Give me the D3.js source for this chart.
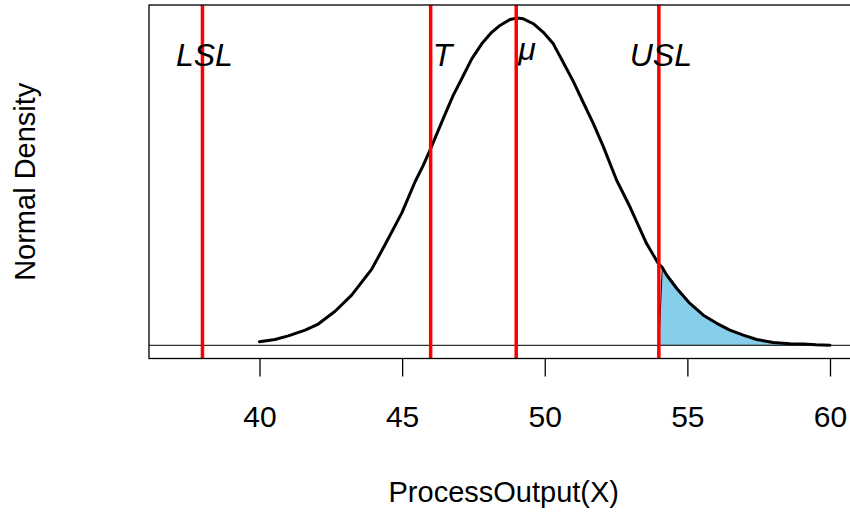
<!DOCTYPE html>
<html>
<head>
<meta charset="utf-8">
<script src="https://cdn.jsdelivr.net/npm/d3@7"></script>
<style>
  html, body { margin: 0; padding: 0; background: #fff; }
  svg { display: block; font-family: "Liberation Sans", Arial, sans-serif; }
</style>
</head>
<body>
<svg id="chart" width="850" height="513"></svg>
<script>
// Process output values and the matching normal density readings
const processX = [
  40.00, 40.54, 41.01, 41.60, 42.06, 42.65, 43.23, 43.93, 44.40, 44.99,
  45.45, 45.74, 46.00, 46.44, 46.79, 47.09, 47.44, 47.79, 48.14, 48.43,
  48.78, 49.02, 49.25, 49.60, 49.95, 50.30, 50.65, 51.00, 51.35, 51.70,
  52.05, 52.52, 52.99, 53.57, 53.98, 54.12, 54.28, 54.63, 55.09, 55.56,
  56.03, 56.49, 56.96, 57.43, 58.01, 58.60, 59.06, 59.51, 60.00
];
const densityY = [
  0.0015, 0.0024, 0.0039, 0.0062, 0.0087, 0.0139, 0.0205, 0.0310, 0.0410, 0.0540,
  0.0666, 0.0734, 0.0802, 0.0924, 0.1019, 0.1087, 0.1168, 0.1229, 0.1276, 0.1304,
  0.1328, 0.1334, 0.1331, 0.1311, 0.1276, 0.1229, 0.1153, 0.1076, 0.0990, 0.0905,
  0.0811, 0.0673, 0.0564, 0.0415, 0.0334, 0.0318, 0.0286, 0.0232, 0.0171, 0.0123,
  0.0090, 0.0062, 0.0042, 0.0024, 0.0012, 0.0007, 0.0006, 0.0003, 0.0001
];

// Specification limits, target and process mean
const markerNames = ["LSL", "T", "\u03bc", "USL"];
const markerValues = [38, 46, 49, 54];
const markerAnchor = ["middle", "start", "start", "middle"];

// Axis ticks
const xTicks = [40, 45, 50, 55, 60];

const svg = d3.select("#chart");

// Plot region (right edge runs past the visible canvas)
const plotLeft = 149, plotTop = 5, plotBottom = 358.5;
const pxPerUnit = 28.525;
const xLo = 40 - (259.5 - plotLeft) / pxPerUnit;
const xHi = 61.0;
const plotRight = plotLeft + (xHi - xLo) * pxPerUnit;

const x = d3.scaleLinear().domain([xLo, xHi]).range([plotLeft, plotRight]);
const yMax = d3.max(densityY);
const y = d3.scaleLinear().domain([-0.04 * yMax, 1.04 * yMax]).range([plotBottom, plotTop]);

const pts = processX.map((v, i) => [v, densityY[i]]);

// Upper tail beyond USL, shaded
const usl = markerValues[3];
const tail = [[usl, 0]].concat(pts.filter(p => p[0] >= usl)).concat([[processX[processX.length - 1], 0]]);
svg.append("path")
  .attr("d", d3.line().x(d => x(d[0])).y(d => y(d[1]))(tail) + "Z")
  .attr("fill", "#87CEEB")
  .attr("stroke", "#000")
  .attr("stroke-width", 1);

// Zero reference line
svg.append("line")
  .attr("x1", plotLeft).attr("x2", plotRight)
  .attr("y1", y(0)).attr("y2", y(0))
  .attr("stroke", "#333").attr("stroke-width", 1.1);

// Density curve
svg.append("path")
  .datum(pts)
  .attr("d", d3.line().x(d => x(d[0])).y(d => y(d[1])))
  .attr("fill", "none")
  .attr("stroke", "#000")
  .attr("stroke-width", 3)
  .attr("stroke-linejoin", "round")
  .attr("stroke-linecap", "round");

// Vertical limit lines
svg.selectAll("line.marker")
  .data(markerValues)
  .enter().append("line")
  .attr("class", "marker")
  .attr("x1", d => x(d)).attr("x2", d => x(d))
  .attr("y1", plotTop).attr("y2", plotBottom)
  .attr("stroke", "#FF0000")
  .attr("stroke-width", 3.5);

// Limit labels
svg.selectAll("text.marker")
  .data(markerValues)
  .enter().append("text")
  .attr("class", "marker")
  .attr("x", (d, i) => x(d) + (markerAnchor[i] === "start" ? 2 : 2))
  .attr("y", (d, i) => markerNames[i] === "\u03bc" ? 60 : 65.5)
  .attr("text-anchor", (d, i) => markerAnchor[i])
  .attr("font-style", "italic")
  .attr("font-size", 32)
  .attr("fill", "#000")
  .text((d, i) => markerNames[i]);

// Plot frame
svg.append("rect")
  .attr("x", plotLeft).attr("y", plotTop)
  .attr("width", plotRight - plotLeft).attr("height", plotBottom - plotTop)
  .attr("fill", "none").attr("stroke", "#000").attr("stroke-width", 1.3);

// X axis
const xAxis = d3.axisBottom(x).tickValues(xTicks).tickSize(18).tickPadding(10).tickFormat(d3.format("d"));
const gx = svg.append("g").attr("transform", `translate(0,${plotBottom})`).call(xAxis);
gx.select(".domain").remove();
gx.selectAll(".tick line").attr("stroke", "#000").attr("stroke-width", 1.3);
gx.selectAll(".tick text")
  .attr("font-family", "Liberation Sans, Arial, sans-serif")
  .attr("font-size", 30)
  .attr("fill", "#000")
  .attr("dy", null)
  .attr("y", 427.3 - plotBottom);

// Axis titles
svg.append("text")
  .attr("x", (plotLeft + plotRight) / 2)
  .attr("y", 501.5)
  .attr("text-anchor", "middle")
  .attr("font-size", 29)
  .attr("fill", "#000")
  .text("ProcessOutput(X)");

svg.append("text")
  .attr("transform", `translate(34.5,${(plotTop + plotBottom) / 2}) rotate(-90)`)
  .attr("text-anchor", "middle")
  .attr("font-size", 29)
  .attr("fill", "#000")
  .text("Normal Density");
</script>
</body>
</html>
